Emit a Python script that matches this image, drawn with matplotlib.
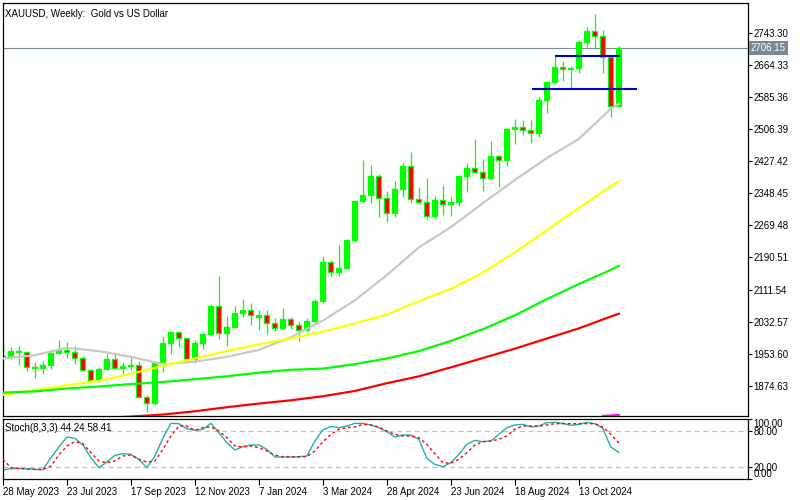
import numpy as np
import matplotlib
matplotlib.use('Agg')
import matplotlib.pyplot as plt
from matplotlib.transforms import blended_transform_factory

plt.rcParams['font.family'] = ['Liberation Sans', 'DejaVu Sans']

# weekly XAUUSD candles, week of 28 May 2023 .. week of 17 Nov 2024
opens = [1946, 1948, 1961, 1958, 1921, 1919, 1925, 1955, 1962, 1959,
         1943, 1914, 1889, 1915, 1940, 1919, 1924, 1925, 1848, 1832,
         1932, 1981, 2006, 1993, 1940, 1980, 2002, 2072, 2004, 2019,
         2053, 2062, 2045, 2049, 2029, 2018, 2039, 2024, 2013, 2035,
         2083, 2179, 2155, 2165, 2233, 2329, 2344, 2392, 2337, 2301,
         2360, 2415, 2334, 2327, 2293, 2333, 2321, 2326, 2391, 2411,
         2400, 2386, 2441, 2431, 2507, 2512, 2503, 2497, 2578, 2622,
         2658, 2653, 2657, 2721, 2747, 2736, 2684, 2563]
highs = [1983, 1971, 1972, 1960, 1934, 1935, 1964, 1988, 1983, 1973,
         1948, 1916, 1922, 1953, 1953, 1933, 1947, 1936, 1851, 1933,
         1997, 2009, 2009, 1993, 1988, 2007, 2075, 2146, 2047, 2070,
         2088, 2078, 2062, 2062, 2041, 2065, 2043, 2031, 2041, 2088,
         2195, 2185, 2222, 2236, 2331, 2431, 2418, 2395, 2353, 2378,
         2422, 2450, 2364, 2387, 2342, 2368, 2339, 2393, 2424, 2483,
         2432, 2477, 2442, 2509, 2531, 2529, 2529, 2585, 2625, 2685,
         2673, 2661, 2725, 2758, 2790, 2750, 2685, 2711]
lows = [1932, 1940, 1925, 1910, 1893, 1903, 1915, 1952, 1942, 1929,
        1911, 1885, 1884, 1914, 1915, 1901, 1913, 1846, 1810, 1828,
        1908, 1953, 1970, 1933, 1932, 1965, 1999, 1990, 1973, 2016,
        2044, 2024, 2013, 2001, 2010, 2015, 2015, 1984, 2009, 2024,
        2078, 2146, 2146, 2163, 2228, 2325, 2324, 2291, 2277, 2291,
        2338, 2325, 2323, 2286, 2287, 2295, 2293, 2318, 2351, 2398,
        2353, 2383, 2364, 2415, 2470, 2492, 2472, 2486, 2546, 2618,
        2624, 2605, 2645, 2708, 2703, 2643, 2536, 2563]
closes = [1948, 1961, 1959, 1921, 1919, 1925, 1955, 1962, 1959, 1943,
          1914, 1889, 1915, 1940, 1919, 1924, 1925, 1848, 1832, 1932,
          1981, 2006, 1993, 1940, 1980, 2002, 2072, 2004, 2019, 2053,
          2062, 2049, 2049, 2029, 2018, 2039, 2024, 2013, 2035, 2083,
          2179, 2155, 2165, 2233, 2329, 2344, 2392, 2337, 2301, 2360,
          2415, 2334, 2327, 2293, 2333, 2321, 2326, 2391, 2411, 2400,
          2386, 2441, 2431, 2507, 2512, 2503, 2497, 2578, 2622, 2658,
          2653, 2657, 2721, 2747, 2736, 2684, 2563, 2706.15]

# moving averages at selected bars
ma_idx = [0, 4, 8, 12, 16, 20, 24, 28, 32, 36, 40, 44, 48, 52, 56, 60, 64, 68, 72, 76, 77]
ma_gray = [1942, 1950, 1968, 1960, 1946, 1928, 1934, 1946, 1963, 1994, 2035,
           2085, 2147, 2215, 2265, 2324, 2381, 2435, 2482, 2556, 2568]
ma_yellow = [1852, 1864, 1876, 1887, 1904, 1924, 1942, 1960, 1977, 1991, 2008,
             2028, 2050, 2083, 2113, 2153, 2203, 2257, 2312, 2366, 2378]
ma_green = [1858, 1861, 1868, 1873, 1879, 1884, 1891, 1898, 1907, 1914, 1917,
            1928, 1942, 1960, 1985, 2014, 2048, 2088, 2125, 2160, 2170]
red_idx = [14, 16, 20, 24, 28, 32, 36, 40, 44, 48, 52, 56, 60, 64, 68, 72, 76, 77]
ma_red = [1797, 1799, 1804, 1812, 1822, 1831, 1839, 1849, 1862, 1881, 1898,
          1920, 1943, 1966, 1991, 2016, 2045, 2052]
magenta_idx = [75, 76, 77]
ma_magenta = [1800.5, 1801.5, 1803]

# horizontal levels drawn on the chart: price, from bar, to bar
level_price = [2685, 2605]
level_from = [69, 66.1]
level_to = [77.1, 79.3]
last_price = 2706.15

# stochastic (8,3,3)
stoch_k = [15, 17.2, 17.8, 17, 16, 15.5, 35.6, 53.3, 70, 67.8,
           56.7, 35.6, 18.9, 28.3, 39.4, 42.2, 41, 32.8, 18.9, 38.3,
           67.8, 92.8, 92.2, 83.9, 81.1, 82.8, 92.8, 77.2, 60.6, 48.3,
           53.9, 56.7, 56.7, 49.4, 36.7, 36.7, 36.7, 37.2, 38.3, 63.3,
           82, 87.5, 85.6, 88.3, 92.8, 92.8, 90, 85.6, 78.9, 70,
           73.3, 73.3, 66.1, 34.4, 24.4, 20.6, 27.2, 41.1, 57.8, 64.4,
           62.2, 63.3, 74.4, 85.6, 90, 91.1, 86.7, 88.3, 93.9, 94.4,
           92.8, 89.4, 91.1, 94.4, 92.2, 84.4, 53.3, 44.24]
stoch_d = [32.8, 18.9, 17.2, 16.7, 16.1, 16.1, 21.7, 40, 55, 62.2,
           58.9, 43.9, 30, 27.2, 30, 38.3, 40, 32.8, 28.3, 30,
           49.4, 71.7, 88.3, 88.3, 81.1, 85.6, 86.7, 80, 68.9, 55,
           53.3, 55, 52.2, 46.7, 40, 36.7, 36.7, 36.7, 37.2, 46.7,
           62, 74.4, 82.8, 85.6, 86.7, 91.1, 90, 86.7, 80, 74.4,
           71.7, 71.7, 68.9, 57.8, 42.2, 27.2, 26.1, 32.8, 43.9, 56.7,
           62.2, 63.3, 66.1, 71.7, 82.8, 88.3, 88.3, 88.3, 90, 92.2,
           92.2, 92.2, 92.2, 92.2, 92.2, 86.7, 74.4, 60]

date_pos = [0, 8, 16, 24, 32, 40, 48, 56, 64, 72]
date_labels = ['28 May 2023', '23 Jul 2023', '17 Sep 2023', '12 Nov 2023', '7 Jan 2024',
               '3 Mar 2024', '28 Apr 2024', '23 Jun 2024', '18 Aug 2024', '13 Oct 2024']
price_ticks = [1874.63, 1953.60, 2032.57, 2111.54, 2190.51, 2269.48,
               2348.45, 2427.42, 2506.39, 2585.36, 2664.33, 2743.30]
stoch_ticks = [0, 20, 80, 100]

W, H = 800, 500
fig = plt.figure(figsize=(8, 5), dpi=100)
fig.patch.set_facecolor('white')

left, right = 2.5, 748
ax = fig.add_axes([left / W, 1 - 416 / H, (right - left) / W, 413 / H])
ax2 = fig.add_axes([left / W, 1 - 479 / H, (right - left) / W, 60 / H])

xlim = (-0.05, 93.15)
fs = 7

# price chart
x = np.arange(len(opens))
o = np.array(opens, float)
h = np.array(highs, float)
l = np.array(lows, float)
c = np.array(closes, float)
up = c >= o

ax.axhline(last_price, color='#778899', lw=0.8, zorder=1)
ax.vlines(x, l, h, color='#00ff00', lw=0.9, zorder=2)
ax.bar(x, np.maximum(np.abs(c - o), 0.5), bottom=np.minimum(o, c), width=0.6,
       color=np.where(up, '#00ff00', '#ff0000'), edgecolor='#00ff00', lw=0.9, zorder=2)

ax.plot(ma_idx, ma_gray, color='#c8c8c8', lw=1.6, zorder=3)
ax.plot(ma_idx, ma_yellow, color='#ffff00', lw=1.6, zorder=3)
ax.plot(ma_idx, ma_green, color='#00ff00', lw=1.6, zorder=3)
ax.plot(red_idx, ma_red, color='#ff0000', lw=1.6, zorder=3)
ax.plot(magenta_idx, ma_magenta, color='#ff00ff', lw=1.6, zorder=3)

for p, a, b in zip(level_price, level_from, level_to):
    ax.hlines(p, a, b, color='#0000c8', lw=1.5, zorder=4)

ax.set_xlim(*xlim)
ax.set_ylim(1800.4, 2816.4)
ax.yaxis.tick_right()
ax.set_yticks(price_ticks)
ax.set_yticklabels([f'{v:.2f}' for v in price_ticks])
ax.set_xticks([])
ax.tick_params(axis='y', direction='out', length=3, width=0.8, pad=1, labelsize=fs)
for s in ax.spines.values():
    s.set_linewidth(0.9)

ax.text(0.004, 0.985, 'XAUUSD, Weekly:  Gold vs US Dollar', transform=ax.transAxes,
        ha='left', va='top', fontsize=fs)
tr = blended_transform_factory(ax.transAxes, ax.transData)
ax.text(1.004, last_price, f'{last_price:.2f}', transform=tr, ha='left', va='center',
        fontsize=fs, color='white', zorder=5,
        bbox=dict(boxstyle='square,pad=0.2', fc='#778899', ec='none'))

# stochastic panel
ax2.axhline(20, color='#c0c0c0', lw=0.9, ls=(0, (4, 3)), zorder=1)
ax2.axhline(80, color='#c0c0c0', lw=0.9, ls=(0, (4, 3)), zorder=1)
ax2.plot(x, stoch_k, color='#20b2aa', lw=1.0, zorder=2)
ax2.plot(x, stoch_d, color='#ff0000', lw=1.0, ls=(0, (2, 2)), zorder=3)
ax2.set_xlim(*xlim)
ax2.set_ylim(0, 100)
ax2.yaxis.tick_right()
ax2.set_yticks(stoch_ticks)
ax2.set_yticklabels([f'{v:.2f}' for v in stoch_ticks])
ax2.tick_params(axis='y', direction='out', length=3, width=0.8, pad=1, labelsize=fs)
labs = ax2.get_yticklabels()
labs[0].set_va('bottom')
labs[-1].set_va('top')
ax2.set_xticks(date_pos)
ax2.set_xticklabels(date_labels, ha='left')
ax2.tick_params(axis='x', direction='out', length=4, width=0.8, pad=2, labelsize=fs)
for s in ax2.spines.values():
    s.set_linewidth(0.9)
ax2.text(0.004, 0.93, 'Stoch(8,3,3) 44.24 58.41', transform=ax2.transAxes,
         ha='left', va='top', fontsize=fs)

fig.savefig('out.png', dpi=100)
